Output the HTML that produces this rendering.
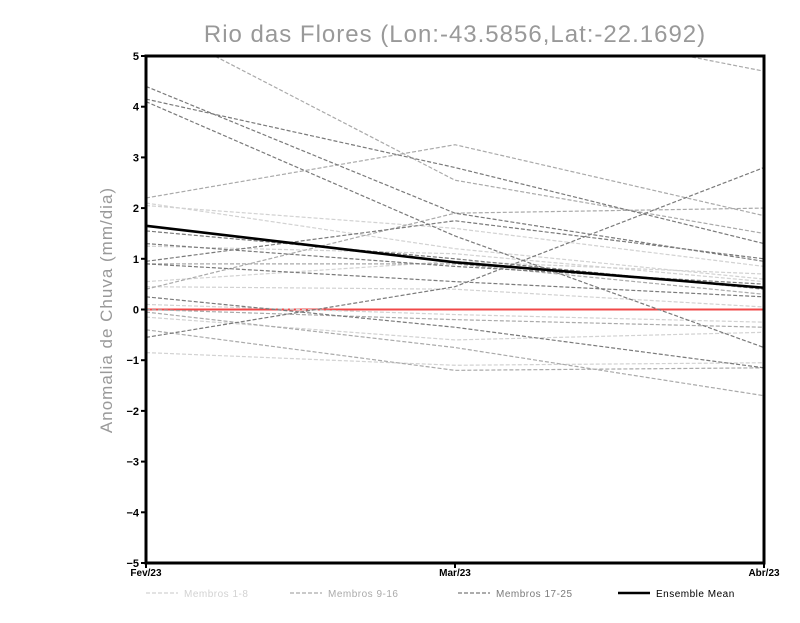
<!DOCTYPE html>
<html><head><meta charset="utf-8"><style>
body{margin:0;background:#fff;width:800px;height:618px;overflow:hidden}
svg text{font-family:"Liberation Sans",sans-serif}
</style></head><body>
<svg id="chart" width="800" height="618" xmlns="http://www.w3.org/2000/svg">
<text x="455" y="42" text-anchor="middle" font-size="24" fill="#999" letter-spacing="1">Rio das Flores (Lon:-43.5856,Lat:-22.1692)</text>
<text transform="translate(112,310) rotate(-90)" text-anchor="middle" font-size="17" fill="#999" letter-spacing="1">Anomalia de Chuva (mm/dia)</text>
<g id="series"></g>
<g id="axes"></g>
<g id="legend"></g>
</svg>
<script>
const categories=["Fev/23","Mar/23","Abr/23"];
const yTicks=[-5,-4,-3,-2,-1,0,1,2,3,4,5];
const light=[[2.1,1.2,0.6],[2.05,1.6,0.85],[1.25,1.1,0.55],[0.55,0.95,0.7],[0.45,0.4,0.05],[0.1,-0.1,-0.25],[-0.15,-0.6,-0.45],[-0.85,-1.1,-1.05]];
const medium=[[5.7,2.55,1.5],[2.2,3.25,1.85],[0.4,1.9,2.0],[-0.4,-1.2,-1.15],[6.5,5.9,4.7],[0,-0.2,-0.35],[-0.05,-0.75,-1.7],[0.9,0.9,0.3]];
const dark=[[4.4,1.9,0.95],[4.15,2.8,1.3],[4.1,1.45,-0.75],[-0.55,0.45,2.8],[0.95,1.75,1.0],[1.55,1.0,0.4],[1.3,0.85,0.5],[0.9,0.55,0.25],[0.25,-0.35,-1.15]];
const ensembleMean=[1.65,0.93,0.43];
const X0=146,X1=764,Y0=563,Y1=56,ymin=-5,ymax=5;
const xs=i=>X0+(X1-X0)*i/(categories.length-1);
const ys=v=>Y0-(v-ymin)/(ymax-ymin)*(Y0-Y1);
const NS="http://www.w3.org/2000/svg";
function mk(t,p,a){const e=document.createElementNS(NS,t);for(const k in a)e.setAttribute(k,a[k]);p.appendChild(e);return e;}
const svg=document.getElementById('chart');
const clip=mk('clipPath',svg,{id:'pc'});mk('rect',clip,{x:X0,y:Y1,width:X1-X0,height:Y0-Y1});
const S=document.getElementById('series');S.setAttribute('clip-path','url(#pc)');
const zl=mk('line',S,{x1:X0,x2:X1,y1:ys(0),y2:ys(0),stroke:'#f04848','stroke-width':2});


function pts(a){return a.map((v,i)=>xs(i)+','+ys(v)).join(' ');}
[[light,'#d2d2d2','members-1-8'],[medium,'#aaaaaa','members-9-16'],[dark,'#7a7a7a','members-17-25']].forEach(([set,c,n])=>{
 set.forEach((s,j)=>{const p=mk('polyline',S,{points:pts(s),fill:'none',stroke:c,'stroke-width':1.2,'stroke-dasharray':'4,2'});
 
 });
});
const m=mk('polyline',S,{points:pts(ensembleMean),fill:'none',stroke:'#000','stroke-width':2.6});


const A=document.getElementById('axes');
const fr=mk('rect',A,{x:X0,y:Y1,width:X1-X0,height:Y0-Y1,fill:'none',stroke:'#000','stroke-width':3});


yTicks.forEach(v=>{mk('line',A,{x1:X0-5,x2:X0,y1:ys(v),y2:ys(v),stroke:'#000','stroke-width':2});
 const t=mk('text',A,{x:X0-7,y:ys(v)+4,'text-anchor':'end','font-size':11,'font-weight':'bold'});t.textContent=String(v).replace('-','−');
 
 });
categories.forEach((c,i)=>{mk('line',A,{x1:xs(i),x2:xs(i),y1:Y0,y2:Y0+5,stroke:'#000','stroke-width':2});
 const t=mk('text',A,{x:xs(i),y:Y0+13,'text-anchor':'middle','font-size':10,'font-weight':'bold'});t.textContent=c;
 
 });
const L=document.getElementById('legend');
[['Membros 1-8','#d2d2d2',146,'4,2',1.2],['Membros 9-16','#aaaaaa',290,'4,2',1.2],['Membros 17-25','#7a7a7a',458,'4,2',1.2],['Ensemble Mean','#000',618,'',2.4]].forEach(([lab,c,x,d,w])=>{
 const g=mk('g',L,{});
 
 
 mk('line',g,{x1:x,x2:x+32,y1:593,y2:593,stroke:c,'stroke-width':w,'stroke-dasharray':d});
 const t=mk('text',g,{x:x+38,y:597,'font-size':10,fill:c==='#000'?'#000':c,'letter-spacing':'0.5'});t.textContent=lab;});
</script>
</body></html>
